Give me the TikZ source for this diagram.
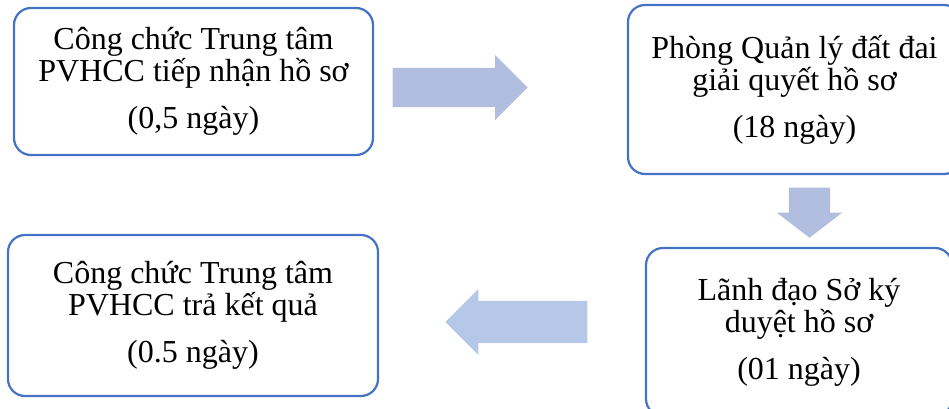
\documentclass[tikz,border=0pt]{standalone}
\usepackage{fontspec}
\setmainfont{Liberation Serif}
\usetikzlibrary{shapes.arrows}
\definecolor{boxblue}{RGB}{68,114,196}
\definecolor{arrowlav}{RGB}{178,190,224}
\definecolor{arrowsky}{RGB}{181,200,231}
\begin{document}
\begin{tikzpicture}[x=1pt,y=-1pt,
    stepbox/.style={draw=boxblue,line width=2.2pt,rounded corners=17pt,
      align=center,inner sep=0pt,font=\fontsize{32}{32}\selectfont},
    blockarrow/.style={single arrow,draw=none,anchor=tip}]
    \useasboundingbox (0,0) rectangle (949,409);
    \clip (0,0) rectangle (949,409);

    \node[stepbox,minimum width=359pt,minimum height=147pt] (recv) at (193.5,81.5)
      {Công chức Trung tâm\\PVHCC tiếp nhận hồ sơ\\[15pt](0,5 ngày)};
    \node[stepbox,minimum width=333pt,minimum height=169pt] (land) at (794.5,89.5)
      {Phòng Quản lý đất đai\\giải quyết hồ sơ\\[15pt](18 ngày)};
    \node[stepbox,minimum width=306pt,minimum height=168pt] (sign) at (799,332)
      {Lãnh đạo Sở ký\\duyệt hồ sơ\\[15pt](01 ngày)};
    \node[stepbox,minimum width=370pt,minimum height=161pt] (back) at (193,315.5)
      {Công chức Trung tâm\\PVHCC trả kết quả\\[15pt](0.5 ngày)};

    \node[blockarrow,fill=arrowlav,minimum height=135pt,inner xsep=0pt,inner ysep=19.5pt,
      single arrow head extend=13pt] (arrA) at (528,87.5) {};
    \node[blockarrow,fill=arrowlav,minimum height=50pt,inner xsep=20.5pt,inner ysep=0pt,
      single arrow head extend=12pt,single arrow tip angle=105,
      shape border rotate=270] (arrB) at (809.5,238) {};
    \node[blockarrow,fill=arrowsky,minimum height=142pt,inner xsep=0pt,inner ysep=21pt,
      single arrow head extend=12pt,shape border rotate=180] (arrC) at (445,322) {};
\end{tikzpicture}
\end{document}
